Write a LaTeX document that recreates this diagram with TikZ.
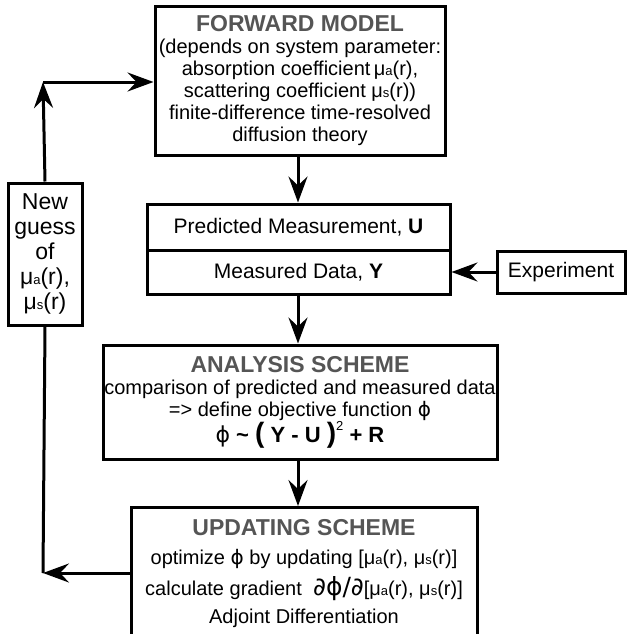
\documentclass[tikz,border=0pt]{standalone}
\usepackage{fontspec}
\setmainfont{Liberation Sans}
\newfontfamily\symfont{DejaVu Sans}
\usetikzlibrary{arrows.meta}
\definecolor{titlegray}{HTML}{555555}
\newcommand{\mua}{μ{\fontsize{13}{13}\selectfont a}}
\newcommand{\mus}{μ{\fontsize{13}{13}\selectfont s}}
\newcommand{\phisym}{{\symfont\mdseries ϕ}}
\newcommand{\headfont}{\fontsize{23}{25}\selectfont\bfseries\color{titlegray}}

\begin{document}
\begin{tikzpicture}[x=1pt, y=-1pt,
    stepbox/.style={draw, line width=3pt, inner sep=0pt, align=center,
      font=\fontsize{20}{22}\selectfont},
    flow/.style={line width=3pt, -{Stealth[length=26pt,width=19pt,inset=9pt]}}]
        \clip (0,0) rectangle (627,634);
        \node[stepbox, minimum width=290pt, minimum height=148pt] (forward) at (300,81)
          {{\headfont FORWARD MODEL}\\(depends on system parameter:\\
           absorption coefficient\,\mua(r),\\scattering coefficient \mus(r))\\
           finite-difference time-resolved\\diffusion theory};
        \node[stepbox, minimum width=303pt, minimum height=46pt,
          font=\fontsize{21}{23}\selectfont] (pred) at (298.5,227)
          {Predicted Measurement, \textbf{U}};
        \node[stepbox, minimum width=303pt, minimum height=44pt,
          font=\fontsize{21}{23}\selectfont] (meas) at (298.5,272)
          {Measured Data, \textbf{Y}};
        \node[stepbox, minimum width=128pt, minimum height=42pt,
          font=\fontsize{21}{23}\selectfont] (experiment) at (561,272) {Experiment};
        \node[stepbox, minimum width=394pt, minimum height=114pt] (analysis) at (300,402)
          {{\headfont ANALYSIS SCHEME}\\comparison of predicted and measured data\\
           => define objective function \phisym\\
           {\fontsize{22}{24}\selectfont\bfseries \phisym{} \textasciitilde{}
           {\fontsize{28}{24}\selectfont(} Y - U {\fontsize{28}{24}\selectfont)}\raisebox{12pt}{\mdseries\fontsize{13}{13}\selectfont 2} + R}};
        \node[stepbox, minimum width=346pt, inner ysep=12pt, anchor=north] (update) at (304,506)
          {{\headfont UPDATING SCHEME}\\[7pt]
           optimize \phisym{} by updating [\mua(r), \mus(r)]\\[7pt]
           calculate gradient \ {\fontsize{25}{25}\selectfont\symfont ∂ϕ/∂}[\mua(r), \mus(r)]\\[6pt]
           Adjoint Differentiation\\[10pt]};
        \node[stepbox, minimum width=74pt, minimum height=142pt,
          font=\fontsize{23}{25}\selectfont] (guess) at (45,254)
          {New\\guess\\of\\\mua(r),\\\mus(r)};
        \coordinate (spine) at (298,0);
        \coordinate (back) at (43,573);
        \coordinate (top) at (43,82);
        \draw[flow] (forward.south -| spine) -- (pred.north -| spine);
        \draw[flow] (meas.south -| spine) -- (analysis.north -| spine);
        \draw[flow] (analysis.south -| spine) -- (update.north -| spine);
        \draw[flow] (experiment.west) -- (meas.east);
        \draw[flow] (update.west |- back) -- (back);
        \draw[line width=3pt] (back) -- (guess.south);
        \draw[flow] (guess.north) -- (top);
        \draw[flow] (top) -- (forward.west |- top);
      \end{tikzpicture}
\end{document}
